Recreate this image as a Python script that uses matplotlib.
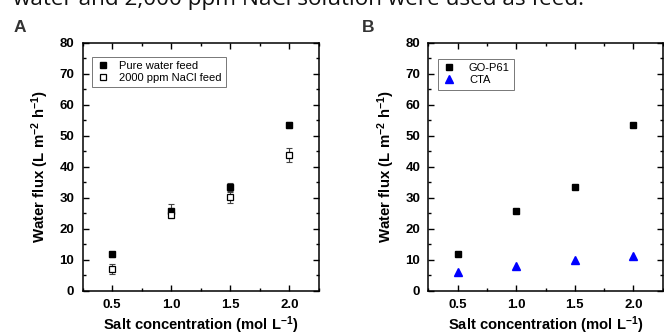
import matplotlib
matplotlib.use("Agg")
import matplotlib.pyplot as plt
from matplotlib.ticker import MultipleLocator

# data
salt = [0.5, 1.0, 1.5, 2.0]
pure_flux = [11.8, 25.8, 33.3, 53.3]
pure_err = [0.8, 2.2, 1.5, 1.0]
nacl_flux = [7.0, 24.3, 30.2, 43.8]
nacl_err = [1.5, 1.0, 1.8, 2.3]
gop61_flux = [11.8, 25.8, 33.3, 53.3]
cta_flux = [6.1, 8.1, 10.0, 11.2]

plt.rcParams['font.family'] = ['Liberation Sans', 'DejaVu Sans']
plt.rcParams['mathtext.fontset'] = 'custom'
plt.rcParams['mathtext.rm'] = 'Liberation Sans:bold'
plt.rcParams['mathtext.default'] = 'rm'

fig = plt.figure(figsize=(6.64, 3.36), dpi=100)
axA = fig.add_axes([0.1245, 0.1348, 0.3559, 0.7387])
axB = fig.add_axes([0.6453, 0.1348, 0.3527, 0.7387])

xlabel = r"Salt concentration (mol L$^{-1}$)"
ylabel = r"Water flux (L m$^{-2}$ h$^{-1}$)"


def style_axes(ax):
    ax.set_xlim(0.25, 2.25)
    ax.set_ylim(0, 80)
    ax.xaxis.set_major_locator(MultipleLocator(0.5))
    ax.xaxis.set_minor_locator(MultipleLocator(0.25))
    ax.yaxis.set_major_locator(MultipleLocator(10))
    ax.yaxis.set_minor_locator(MultipleLocator(5))
    ax.set_xticks(salt)
    ax.set_xticklabels(["%.1f" % s for s in salt])
    ax.tick_params(which='both', direction='in', top=True, right=True, width=1.0)
    ax.tick_params(which='major', length=4, labelsize=9.5, pad=6)
    ax.tick_params(which='minor', length=2.5)
    for lab in ax.get_xticklabels() + ax.get_yticklabels():
        lab.set_fontweight('bold')
    for sp in ax.spines.values():
        sp.set_linewidth(1.1)
    ax.set_xlabel(xlabel, fontsize=10.6, fontweight='bold', labelpad=2.5)
    ax.set_ylabel(ylabel, fontsize=10.8, fontweight='bold', labelpad=6)


# panel A: error bars first, markers on top
axA.errorbar(salt, pure_flux, yerr=pure_err, fmt='none', ecolor='#444444',
             elinewidth=0.8, capsize=2.5, capthick=0.8, zorder=2)
axA.errorbar(salt, nacl_flux, yerr=nacl_err, fmt='none', ecolor='#444444',
             elinewidth=0.8, capsize=2.5, capthick=0.8, zorder=2)
axA.plot(salt, pure_flux, 's', color='black', ms=5, label='Pure water feed', zorder=3)
axA.plot(salt, nacl_flux, 's', mfc='white', mec='black', mew=0.9, ms=5,
         label='2000 ppm NaCl feed', zorder=3)
style_axes(axA)
legA = axA.legend(loc='upper left', bbox_to_anchor=(0.04, 0.943), borderaxespad=0,
                  fontsize=8, frameon=True, fancybox=False, edgecolor='#555555',
                  handlelength=1.2, handletextpad=0.9, borderpad=0.35,
                  labelspacing=0.2, markerscale=1.0)
legA.get_frame().set_linewidth(0.7)

# panel B
axB.plot(salt, gop61_flux, 's', color='black', ms=5, label='GO-P61')
axB.plot(salt, cta_flux, '^', color='#0000ff', ms=6, label='CTA')
style_axes(axB)
legB = axB.legend(loc='upper left', bbox_to_anchor=(0.04, 0.935), borderaxespad=0,
                  fontsize=8, frameon=True, fancybox=False, edgecolor='#555555',
                  handlelength=1.2, handletextpad=1.2, borderpad=0.4,
                  labelspacing=0.2, markerscale=0.85)
legB.get_frame().set_linewidth(0.7)

# panel letters
fig.text(0.021, 1 - 32 / 336, "A", fontsize=12.5, fontweight='bold', color='#333333')
fig.text(0.545, 1 - 32 / 336, "B", fontsize=12.5, fontweight='bold', color='#333333')

# clipped caption line at the very top of the image
fig.text(0.019, 1 - 4.5 / 336, "water and 2,000 ppm NaCl solution were used as feed.",
         fontsize=16.2, family='Open Sans', va='baseline', color='#111111')

fig.savefig("out.png", dpi=100)
